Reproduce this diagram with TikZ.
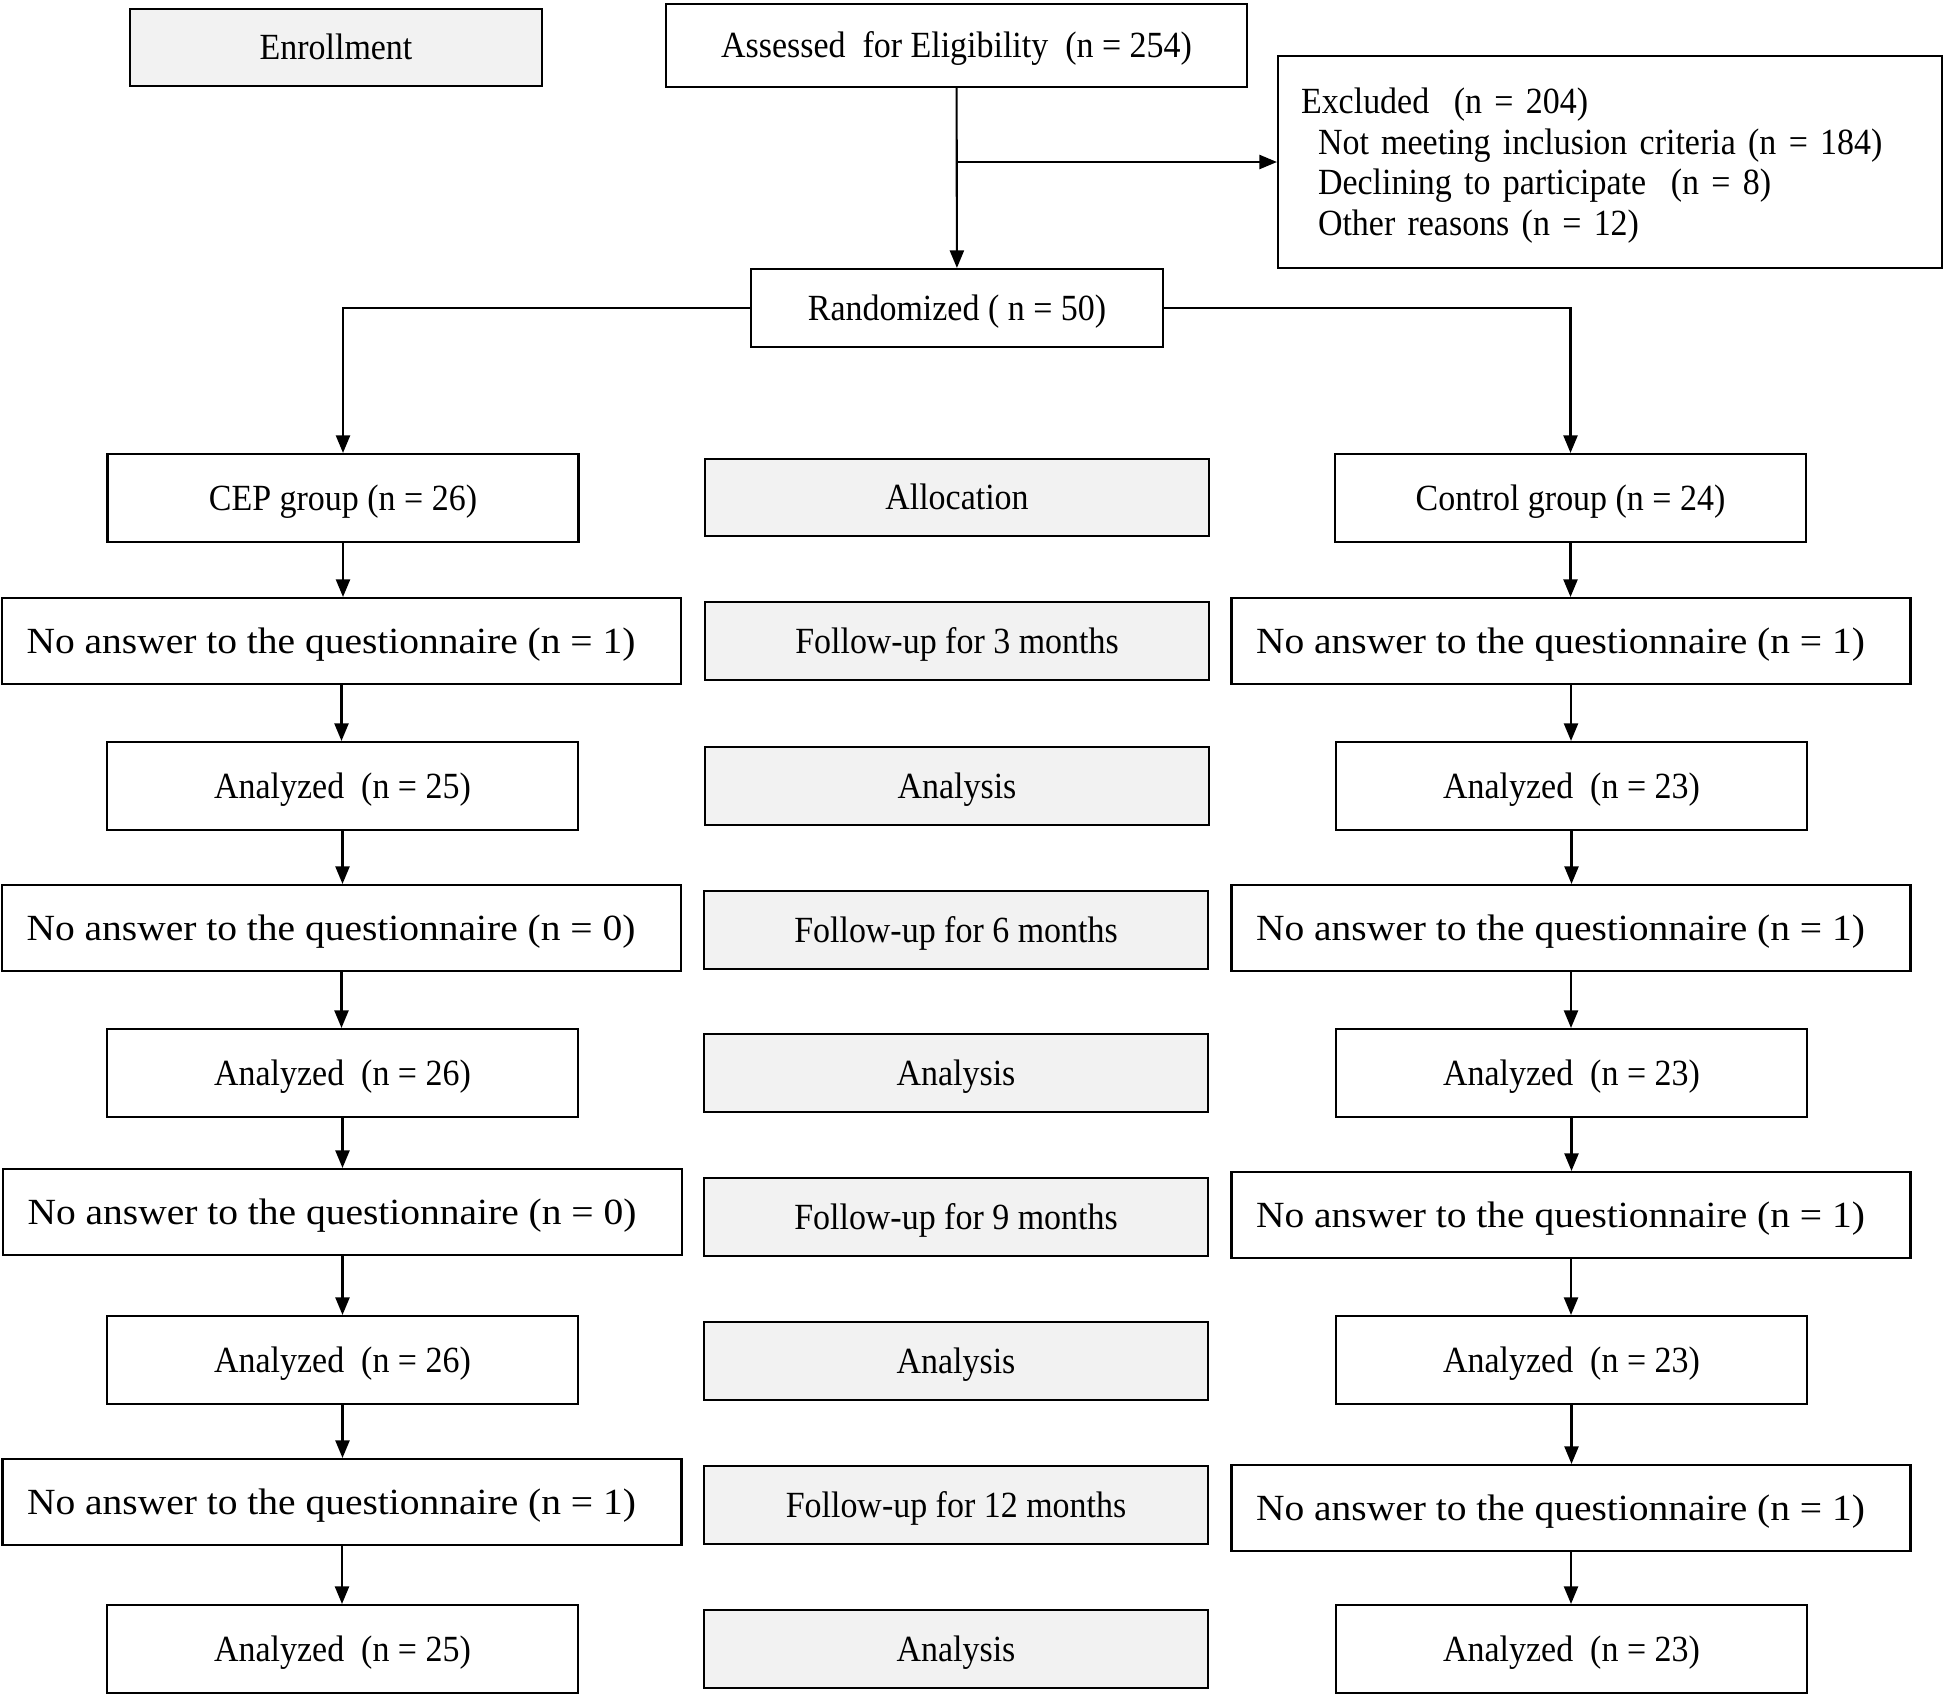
\documentclass[tikz,border=0pt]{standalone}
\usepackage{fontspec}
\setmainfont[FakeStretch=0.92]{Liberation Serif}
\newfontfamily\wideserif[FakeStretch=1.07]{Liberation Serif}
\usetikzlibrary{arrows.meta}

\tikzset{
  flowbox/.style={draw=black, line width=0.6pt, fill=white, minimum height=0.86cm, inner sep=1pt,
    text height=0.69em, text depth=0pt, font=\fontsize{10.5}{12.6}\selectfont},
  stagebox/.style={flowbox, fill=stagegrey, minimum width=5.04cm, minimum height=0.78cm},
  narrowbox/.style={flowbox, minimum width=4.71cm, minimum height=0.88cm},
  widebox/.style={flowbox, minimum width=6.79cm, font=\fontsize{10.5}{12.6}\wideserif},
  flowarrow/.style={line width=0.6pt, -{Triangle[length=5pt,width=4pt]}}
}
\definecolor{stagegrey}{HTML}{F2F2F2}
\newcommand{\noanswer}[1]{No answer to the questionnaire (n = #1)\hspace*{0.21cm}}

\begin{document}
\begin{tikzpicture}
%\draw[step=1cm,gray,very thin] (0,-16.97) grid (19.46,0); %background grid
\useasboundingbox (0,0) rectangle (19.46,-16.97);

% top part
\node[stagebox, minimum width=4.12cm, minimum height=0.77cm] (enroll) at (3.36,-0.475) {Enrollment};
\node[flowbox, minimum width=5.81cm, minimum height=0.83cm] (assess) at (9.565,-0.455) {Assessed\ \ for Eligibility\ \ (n = 254)};
\node[draw=black, line width=0.6pt, fill=white, inner sep=1pt, minimum height=2.12cm, text width=6.18cm,
  inner xsep=0.23cm, align=left, font=\fontsize{10.5}{11.6}\selectfont] (excl) at (16.10,-1.62)
  {\rule{0pt}{0.33cm}Excluded\ \ (n = 204)\\
   \hspace*{0.17cm}Not meeting inclusion criteria (n = 184)\\
   \hspace*{0.17cm}Declining to participate\ \ (n = 8)\\
   \hspace*{0.17cm}Other reasons (n = 12)};
\node[flowbox, minimum width=4.12cm, minimum height=0.78cm] (random) at (9.57,-3.08) {Randomized ( n = 50)};

% row 1
\node[narrowbox] (cep) at (3.43,-4.98) {CEP group (n = 26)};
\node[stagebox, minimum height=0.77cm] (alloc) at (9.57,-4.975) {Allocation};
\node[narrowbox] (ctrl) at (15.705,-4.98) {Control group (n = 24)};

% 3 months
\node[widebox] (lno3) at (3.415,-6.41) {\noanswer{1}};
\node[stagebox] (fu3) at (9.57,-6.41) {Follow-up for 3 months};
\node[widebox] (rno3) at (15.71,-6.41) {\noanswer{1}};
\node[narrowbox] (lan3) at (3.425,-7.86) {Analyzed\ \ (n = 25)};
\node[stagebox] (an3) at (9.57,-7.86) {Analysis};
\node[narrowbox] (ran3) at (15.715,-7.86) {Analyzed\ \ (n = 23)};

% 6 months
\node[widebox] (lno6) at (3.415,-9.28) {\noanswer{0}};
\node[stagebox] (fu6) at (9.56,-9.30) {Follow-up for 6 months};
\node[widebox] (rno6) at (15.71,-9.28) {\noanswer{1}};
\node[narrowbox] (lan6) at (3.425,-10.73) {Analyzed\ \ (n = 26)};
\node[stagebox] (an6) at (9.56,-10.73) {Analysis};
\node[narrowbox] (ran6) at (15.715,-10.73) {Analyzed\ \ (n = 23)};

% 9 months
\node[widebox] (lno9) at (3.425,-12.12) {\noanswer{0}};
\node[stagebox] (fu9) at (9.56,-12.17) {Follow-up for 9 months};
\node[widebox] (rno9) at (15.71,-12.15) {\noanswer{1}};
\node[narrowbox] (lan9) at (3.425,-13.60) {Analyzed\ \ (n = 26)};
\node[stagebox] (an9) at (9.56,-13.61) {Analysis};
\node[narrowbox] (ran9) at (15.715,-13.60) {Analyzed\ \ (n = 23)};

% 12 months
\node[widebox] (lno12) at (3.42,-15.02) {\noanswer{1}};
\node[stagebox] (fu12) at (9.56,-15.05) {Follow-up for 12 months};
\node[widebox] (rno12) at (15.71,-15.08) {\noanswer{1}};
\node[narrowbox] (lan12) at (3.425,-16.49) {Analyzed\ \ (n = 25)};
\node[stagebox] (an12) at (9.56,-16.49) {Analysis};
\node[narrowbox] (ran12) at (15.715,-16.49) {Analyzed\ \ (n = 23)};

% connectors
\coordinate (split) at (assess.south |- excl.west);
\draw[flowarrow] (assess) -- (random);
\draw[flowarrow] (split) -- (excl.west);
\draw[flowarrow] (random.west) -| (cep.north);
\draw[flowarrow] (random.east) -| (ctrl.north);

\draw[flowarrow] (cep) -- (cep |- lno3.north);
\draw[flowarrow] (lno3) -- (lno3 |- lan3.north);
\draw[flowarrow] (lan3) -- (lan3 |- lno6.north);
\draw[flowarrow] (lno6) -- (lno6 |- lan6.north);
\draw[flowarrow] (lan6) -- (lan6 |- lno9.north);
\draw[flowarrow] (lno9) -- (lno9 |- lan9.north);
\draw[flowarrow] (lan9) -- (lan9 |- lno12.north);
\draw[flowarrow] (lno12) -- (lno12 |- lan12.north);

\draw[flowarrow] (ctrl) -- (ctrl |- rno3.north);
\draw[flowarrow] (rno3) -- (rno3 |- ran3.north);
\draw[flowarrow] (ran3) -- (ran3 |- rno6.north);
\draw[flowarrow] (rno6) -- (rno6 |- ran6.north);
\draw[flowarrow] (ran6) -- (ran6 |- rno9.north);
\draw[flowarrow] (rno9) -- (rno9 |- ran9.north);
\draw[flowarrow] (ran9) -- (ran9 |- rno12.north);
\draw[flowarrow] (rno12) -- (rno12 |- ran12.north);

\end{tikzpicture}
\end{document}
